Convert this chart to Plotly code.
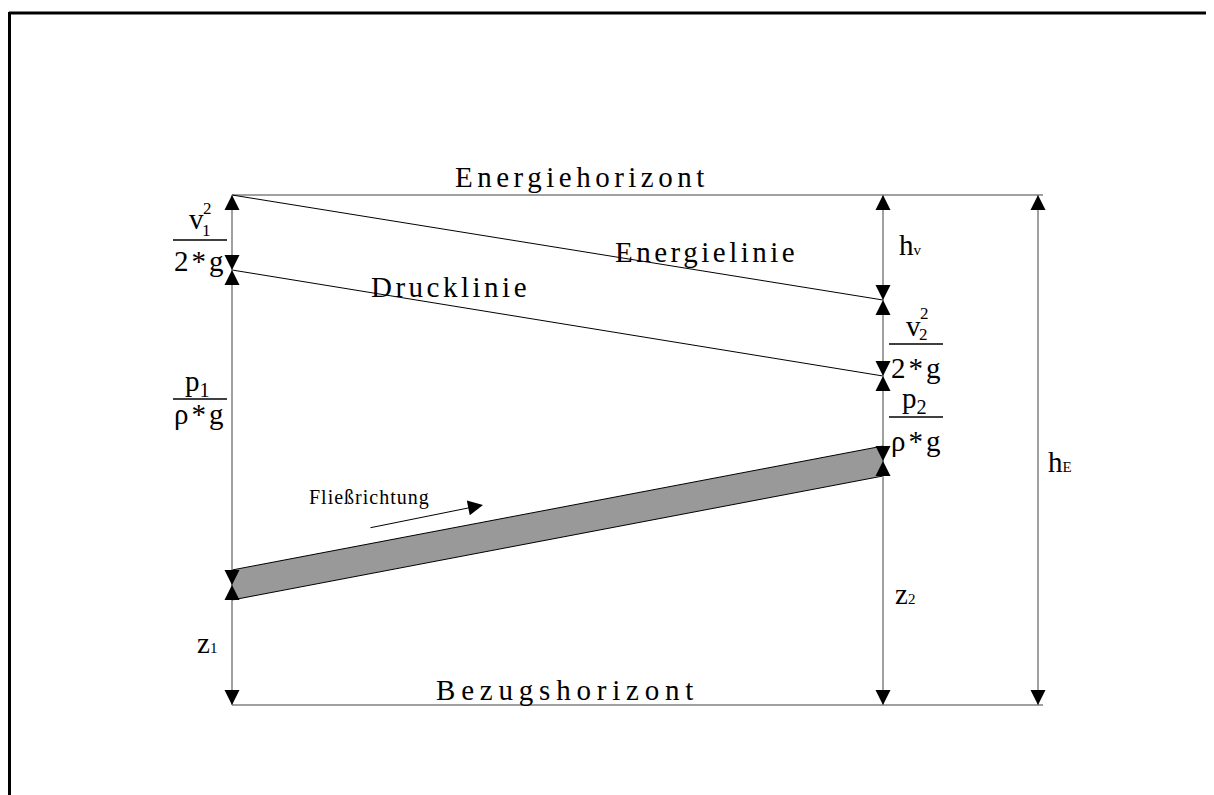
import plotly.graph_objects as go

# Querschnitte (x) und Hoehen ueber dem Bezugshorizont (y)
x_sections = [232, 883]
x_he = 1038
x_end = 1043
energiehorizont = 510
bezugshorizont = 0
energielinie = [510, 405]
drucklinie = [435, 329]
rohrachse = [120, 244]
rohr_halb = 15

# Fliessrichtungspfeil
flow_x = [369, 483]
flow_y = [177, 200]

FONT = "Liberation Serif"
GREY = "#808080"

fig = go.Figure()

# Horizonte
for h in [energiehorizont, bezugshorizont]:
    fig.add_trace(go.Scatter(x=[x_sections[0], x_end], y=[h, h], mode="lines",
                             line=dict(color=GREY, width=1.5)))

# Energie- und Drucklinie
fig.add_trace(go.Scatter(x=x_sections, y=energielinie, mode="lines", line=dict(color="black", width=1)))
fig.add_trace(go.Scatter(x=x_sections, y=drucklinie, mode="lines", line=dict(color="black", width=1)))

# Rohr
top = [v + rohr_halb for v in rohrachse]
bot = [v - rohr_halb for v in rohrachse]
fig.add_trace(go.Scatter(
    x=[x_sections[0], x_sections[1], x_sections[1], x_sections[0], x_sections[0]],
    y=[top[0], top[1], bot[1], bot[0], top[0]],
    mode="lines", fill="toself", fillcolor="#999999", line=dict(color="black", width=1)))

# Masspfeile
spans = [
    (x_sections[0], [energiehorizont, drucklinie[0], rohrachse[0], bezugshorizont]),
    (x_sections[1], [energiehorizont, energielinie[1], drucklinie[1], rohrachse[1], bezugshorizont]),
    (x_he, [energiehorizont, bezugshorizont]),
]
for x, levels in spans:
    fig.add_trace(go.Scatter(x=[x, x], y=[levels[0], levels[-1]], mode="lines",
                             line=dict(color=GREY, width=1.5)))
    ax, ay, sym = [], [], []
    for a, b in zip(levels[:-1], levels[1:]):
        ax += [x, x]
        ay += [a, b]
        sym += ["arrow-up", "arrow-down"]
    fig.add_trace(go.Scatter(x=ax, y=ay, mode="markers",
                             marker=dict(symbol=sym, size=15, color="black", line=dict(width=0))))

# Bruchstriche
frac_bars = [([173, 227], 465), ([173, 227], 306), ([889, 943], 361), ([889, 943], 288)]
for xs, y in frac_bars:
    fig.add_trace(go.Scatter(x=xs, y=[y, y], mode="lines", line=dict(color="black", width=1.5)))


def label(text, x, y, size=29, spacing=0):
    if spacing:
        text = f'<span style="letter-spacing:{spacing}px">{text}</span>'
    fig.add_annotation(x=x, y=y, text=text, showarrow=False, xanchor="center", yanchor="middle",
                       font=dict(family=FONT, size=size, color="black"))


def small(t):
    return f'<span style="font-size:15px">{t}</span>'


label("Energiehorizont", 582, 528, spacing=4.5)
label("Energielinie", 706, 453, spacing=3.5)
label("Drucklinie", 450, 418, spacing=3.5)
label("Bezugshorizont", 567, 15, spacing=5.8)
label("Fließrichtung", 369, 208, size=20, spacing=1)

# linke Brueche
label("v", 196, 486)
label("2", 207, 497, size=17)
label("1", 206, 475, size=17)
label("2*g", 200, 444, spacing=3)
label("p<sub>1</sub>", 197, 322)
label("ρ*g", 200, 291, spacing=3)

# rechte Brueche
label("v", 913, 379)
label("2", 924, 392, size=17)
label("2", 923, 371, size=17)
label("2*g", 917, 337, spacing=3)
label("p<sub>2</sub>", 914, 305)
label("ρ*g", 917, 264, spacing=3)

label("h" + small("v"), 910, 460)
label("h" + small("E"), 1060, 243)
label("z" + small("1"), 207, 62)
label("z" + small("2"), 905, 111)

fig.add_annotation(x=flow_x[1], y=flow_y[1], ax=flow_x[0], ay=flow_y[0], axref="x", ayref="y",
                   xref="x", yref="y", text="", showarrow=True, arrowhead=2, arrowsize=3,
                   arrowwidth=1, arrowcolor="black", standoff=0, startstandoff=0)

# Seitenrahmen
fig.add_shape(type="line", x0=9, x1=1230, y0=692, y1=692, line=dict(color="black", width=3))
fig.add_shape(type="line", x0=9.5, x1=9.5, y0=693, y1=-110, line=dict(color="black", width=3))

# die Seite hat 8px Rand, Achsen so verschieben, dass die Koordinaten Bildpixeln entsprechen
fig.update_layout(
    width=1214, height=795,
    margin=dict(l=0, r=0, t=0, b=0),
    showlegend=False,
    plot_bgcolor="white", paper_bgcolor="white",
    xaxis=dict(range=[8, 1222], visible=False, fixedrange=True),
    yaxis=dict(range=[-98, 697], visible=False, fixedrange=True),
)

fig.write_html("out.html")
